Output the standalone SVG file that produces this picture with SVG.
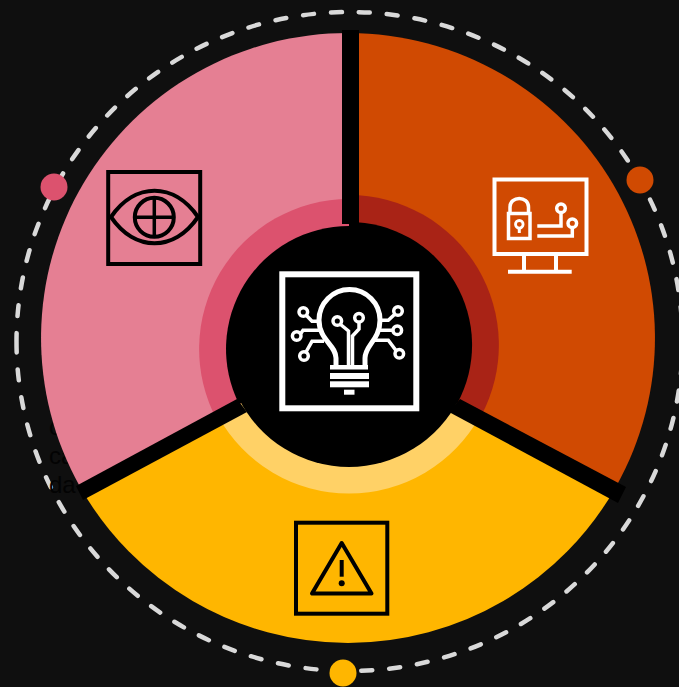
<svg xmlns="http://www.w3.org/2000/svg" width="679" height="687" viewBox="0 0 679 687">
<style>
.lbl{font-family:"Liberation Sans",Arial,sans-serif;font-size:24px;fill:#030303}
.k{fill:none;stroke:#000;stroke-width:4}
.w{fill:none;stroke:#fff;stroke-width:4}
.t{fill:none;stroke:#fff;stroke-width:3.500}
.kf{fill:#000}.wf{fill:#fff}
</style>
<rect width="679" height="687" fill="#0f0f0f"/>
<path id="orbit" d="M16.500 341.500A333 329.500 0 1 0 682.500 341.500A333 329.500 0 1 0 16.500 341.500" fill="none" stroke="#d9d9d9" stroke-width="4.500" stroke-linecap="round" stroke-dasharray="11 17"/>
<g id="hidden-text">
<text class="lbl" x="49" y="435">c</text>
<text class="lbl" x="49" y="464">ca</text>
<text class="lbl" x="49" y="493">da</text>
</g>
<g id="segment-left">
<path d="M349 348L349 33A307 305 0 0 0 80 486.700Z" fill="#e57f93"/>
<path d="M349 349V199A150 150 0 0 0 217 420Z" fill="#dc526e"/>
</g>
<g id="segment-right">
<path d="M349 348V33A307 305 0 0 1 616 486.700Z" fill="#d04a02"/>
<path d="M349 345V195A150 150 0 0 1 481 416Z" fill="#a92316"/>
</g>
<g id="segment-bottom">
<path d="M349 348L80 486.700A307 305 0 0 0 616 486.700Z" fill="#ffb600"/>
<path d="M349 344L218 416A149.500 149.500 0 0 0 480 416Z" fill="#ffd166"/>
</g>
<g id="center">
<path class="kf" d="M349 349V226A123 123 0 0 0 239 404Z"/>
<path class="kf" d="M349 345V222A123 123 0 0 1 457 404Z"/>
<path class="kf" d="M349 344L239 399A123 123 0 0 0 459 399Z"/>
</g>
<g id="connectors">
<rect class="kf" x="342" y="30" width="17" height="194"/>
<path class="kf" d="M76 486L237 399L247 412L83 500Z"/>
<path class="kf" d="M460 399L626 487L618 503L449 412Z"/>
</g>
<g id="center-icon">
<rect x="282.300" y="274.300" width="134" height="134" fill="none" stroke="#fff" stroke-width="6"/>
<path d="M336 367V358C336 345 319 340 319 320A30.500 30.500 0 0 1 380 320C380 340 365 345 365 358V367" fill="none" stroke="#fff" stroke-width="5"/>
<rect class="wf" x="330" y="365" width="38" height="4.500"/>
<rect class="wf" x="330" y="373" width="39" height="6"/>
<rect class="wf" x="330" y="381.300" width="39" height="6"/>
<rect class="wf" x="344" y="389.700" width="10.500" height="5"/>
<path class="t" d="M340 324L348.500 331V366M359 322V329L352.500 336V366"/>
<circle class="t" cx="337.300" cy="321" r="4.300"/>
<circle class="t" cx="359" cy="317.700" r="4.300"/>
<path class="t" d="M306 315L312 321.300H320M300.500 334L303 330.300H320M306 352L312 341.300H324M395 314L388.300 320.300H379M393 330.300H380M396 350.500L388.300 340.300H375"/>
<circle class="t" cx="303.300" cy="312" r="4.300"/>
<circle class="t" cx="296.700" cy="336" r="4.300"/>
<circle class="t" cx="304" cy="356" r="4.300"/>
<circle class="t" cx="398" cy="311" r="4.300"/>
<circle class="t" cx="397.300" cy="330.300" r="4.300"/>
<circle class="t" cx="399.300" cy="353.700" r="4.300"/>
</g>
<g id="icon-eye">
<rect class="k" x="108.200" y="172" width="92" height="92"/>
<path class="k" d="M111 217C135 182 174 182 198 217C174 252 135 252 111 217Z"/>
<circle class="k" cx="154.300" cy="217.300" r="19.500"/>
<path class="k" d="M154.300 198V237M135 217.300H174" style="stroke-width:3.500"/>
</g>
<g id="icon-monitor">
<rect class="w" x="494.500" y="179.500" width="92" height="74.500"/>
<path class="w" d="M524 254V271.700M556 254V271.700M508 271.700H571.700"/>
<path class="w" style="stroke-width:3.500" d="M510 213V207C510 195.500 528.500 195.500 528.500 207V213"/>
<rect class="w" style="stroke-width:3.500" x="508.500" y="213.500" width="21.500" height="25"/>
<circle class="w" style="stroke-width:2.800" cx="519.300" cy="224.300" r="3.800"/>
<path class="w" style="stroke-width:3" d="M519.300 228V233"/>
<path class="w" style="stroke-width:3.500" d="M537.300 226H561V213M537.300 236H572.300V228"/>
<circle class="t" cx="561" cy="208.300" r="4.300"/>
<circle class="t" cx="572.300" cy="223.300" r="4.300"/>
</g>
<g id="icon-warning">
<rect class="k" x="296" y="522.700" width="91.300" height="91"/>
<path class="k" style="stroke-linejoin:round" d="M341.700 543L312 593.500H371.500Z"/>
<path class="k" d="M341.700 560V576.700"/>
<circle class="kf" cx="341.700" cy="583.300" r="3"/>
</g>
<g id="dots">
<circle cx="54" cy="187" r="13.500" fill="#dc526e"/>
<circle cx="640" cy="180" r="13.500" fill="#d04a02"/>
<circle cx="343" cy="673" r="13.500" fill="#ffb600"/>
</g>
</svg>
